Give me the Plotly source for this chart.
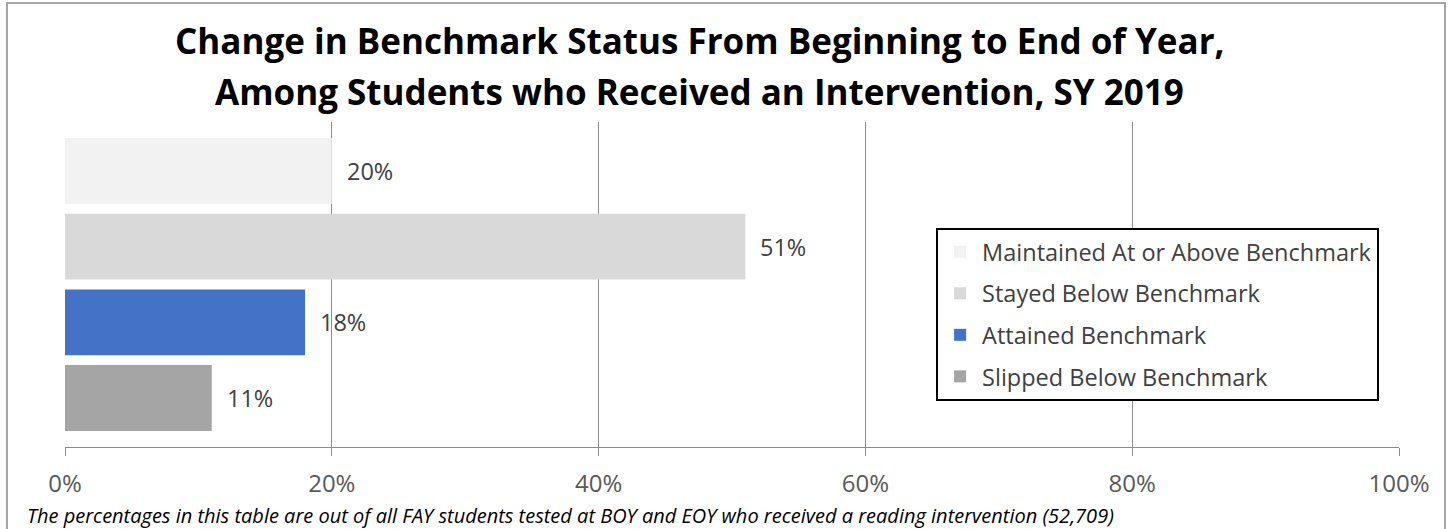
import plotly.graph_objects as go

categories = [
    "Maintained At or Above Benchmark",
    "Stayed Below Benchmark",
    "Attained Benchmark",
    "Slipped Below Benchmark",
]
values = [20, 51, 18, 11]
labels = ["20%", "51%", "18%", "11%"]
colors = ["#F2F2F2", "#D9D9D9", "#4472C4", "#A5A5A5"]
tick_vals = [0, 20, 40, 60, 80, 100]
tick_text = ["0%", "20%", "40%", "60%", "80%", "100%"]

title_lines = [
    "Change in Benchmark Status From Beginning to End of Year,",
    "Among Students who Received an Intervention, SY 2019",
]
footnote = ("The percentages in this table are out of all FAY students tested at BOY "
            "and EOY who received a reading intervention (52,709)")

FONT = "Open Sans"
GRID = "#8C8C8C"

fig = go.Figure()
for i, (cat, val, col) in enumerate(zip(categories, values, colors)):
    fig.add_trace(go.Bar(
        x=[val], y=[i], orientation="h", name=cat,
        marker=dict(color=col, line=dict(width=0)),
        width=0.87, legendgroup=cat,
        hoverinfo="x+name",
    ))
    fig.add_annotation(
        x=val, y=i, text=labels[i], showarrow=False,
        xanchor="left", xshift=13,
        font=dict(family=FONT, size=23.5, color="#404040"),
    )

# title, two lines
for j, line in enumerate(title_lines):
    fig.add_annotation(
        x=0.476, y=[1.25, 1.094][j], xref="paper", yref="paper",
        text="<b>%s</b>" % line, showarrow=False,
        xanchor="center", yanchor="middle",
        font=dict(family=FONT, size=35, color="#000000"),
    )

fig.add_annotation(
    x=-0.03, y=-0.211, xref="paper", yref="paper",
    text="<i>%s</i>" % footnote, showarrow=False,
    xanchor="left", yanchor="middle",
    font=dict(family=FONT, size=20, color="#000000"),
)

# outer chart frame
fig.add_shape(type="rect", xref="paper", yref="paper",
              x0=-0.0435, x1=1.0345, y0=-0.4, y1=1.366,
              line=dict(color="#A6A6A6", width=2), layer="below")

fig.update_layout(
    width=1449, height=529,
    margin=dict(l=65, r=50, t=122, b=82),
    paper_bgcolor="white", plot_bgcolor="white",
    barmode="overlay",
    showlegend=True,
    legend=dict(
        x=0.653, y=0.674, xanchor="left", yanchor="top",
        bordercolor="#000000", borderwidth=2,
        font=dict(family=FONT, size=23.5, color="#404040"),
        traceorder="grouped", tracegroupgap=8,
        itemwidth=34,
        bgcolor="white",
    ),
    font=dict(family=FONT),
)
fig.update_xaxes(
    range=[0, 100], tickvals=tick_vals, ticktext=tick_text,
    showgrid=True, gridcolor=GRID, gridwidth=1,
    showline=True, linecolor=GRID, linewidth=1,
    ticks="outside", ticklen=8, tickcolor=GRID,
    tickfont=dict(family=FONT, size=24, color="#595959"),
    ticklabelstandoff=7,
    zeroline=False,
)
fig.update_yaxes(
    range=[3.648, -0.648], showticklabels=False, showgrid=False,
    zeroline=False, showline=False,
)

fig.write_html("out.html", config={"displayModeBar": False},
               post_script="document.body.style.margin='0';")
